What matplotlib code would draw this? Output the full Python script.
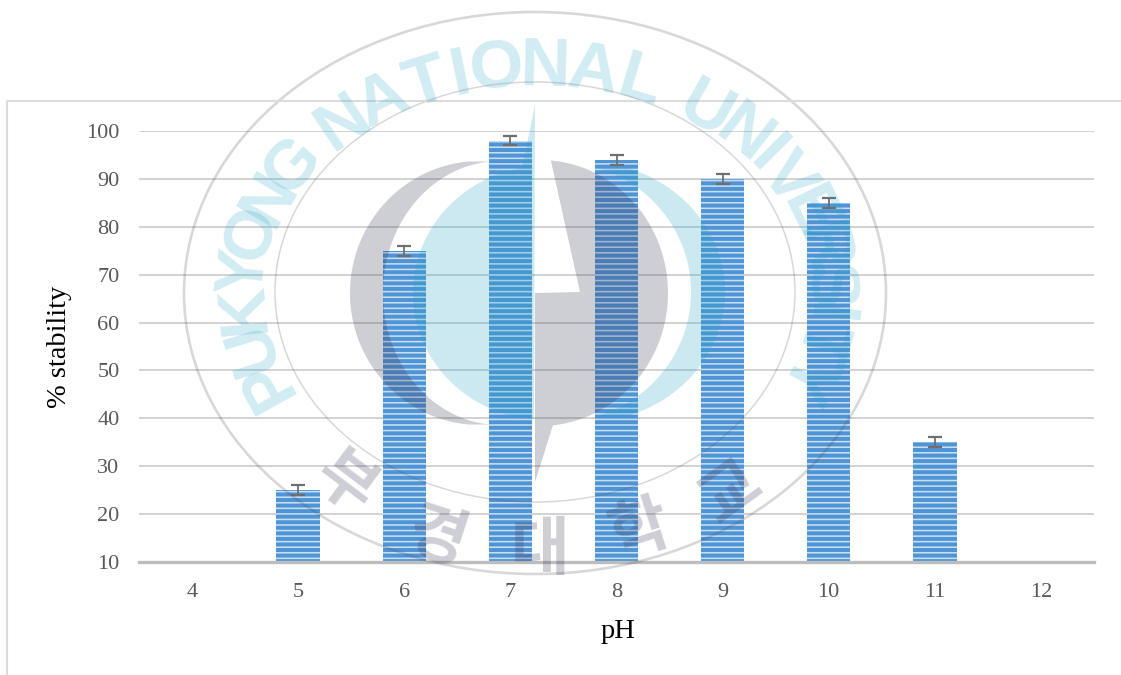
import numpy as np
import matplotlib
matplotlib.use("Agg")
import matplotlib.pyplot as plt
from matplotlib.patches import Ellipse, Polygon

ph = [4, 5, 6, 7, 8, 9, 10, 11, 12]
stability = [np.nan, 25, 75, 98, 94, 90, 85, 35, np.nan]
errors = [np.nan, 1, 1, 1, 1, 1, 1, 1, np.nan]
yticks = [10, 20, 30, 40, 50, 60, 70, 80, 90, 100]

seal_text = "PUKYONG NATIONAL UNIVERSITY"
seal_korean = ["부", "경", "대", "학", "교"]

W, H = 1121, 675
plt.rcParams['hatch.linewidth'] = 1.15
plt.rcParams['font.family'] = ['Liberation Serif', 'DejaVu Serif']

fig = plt.figure(figsize=(W/100, H/100), dpi=100)
ax = fig.add_axes([139/W, (H-562)/H, (1094-139)/W, (562-131)/H])

# chart
ax.yaxis.grid(True, color='#d2d2d2', lw=1.4)
ax.set_axisbelow(True)
ax.bar(ph, stability, width=0.41, color='#4f94d4', edgecolor='#c8def3', hatch='---', lw=0)
ax.errorbar(ph, stability, yerr=errors, fmt='none', ecolor='#6e6e6e', elinewidth=1.3, capsize=5, capthick=1.6)
ax.set_xlim(3.5, 12.5)
ax.set_ylim(10, 100)
ax.set_xticks(ph)
ax.set_yticks(yticks)
ax.tick_params(length=0, labelsize=16, labelcolor='#595959')
ax.tick_params(axis='x', pad=15)
ax.tick_params(axis='y', pad=14)
for s in ['top', 'left', 'right']:
    ax.spines[s].set_visible(False)
ax.spines['bottom'].set_color('#bdbdbd')
ax.spines['bottom'].set_linewidth(2.4)
ax.set_xlabel('pH', fontsize=20.5, va='top')
ax.set_ylabel('% stability', fontsize=20.5, va='bottom')
ax.xaxis.set_label_coords(0.5016, -0.133)
ax.yaxis.set_label_coords(-0.07, 0.5)

# overlay in pixel coordinates for frame and watermark
ov = fig.add_axes([0, 0, 1, 1], zorder=5)
ov.set_xlim(0, W)
ov.set_ylim(H, 0)
ov.axis('off')
ov.plot([7, 7, W], [H, 101, 101], color='#dcdcdc', lw=1.5)


def arc(cx, cy, rx, ry, t0, t1):
    t = np.radians(np.linspace(t0, t1, 80))
    return np.column_stack([cx + rx*np.cos(t), cy - ry*np.sin(t)])


GRAY = '#3c3c5a'
BLUE = '#24a4c4'
cx, cy = 535, 293

# rings
ov.add_patch(Ellipse((cx, cy), 702, 562, fill=False, ec='#50505a', alpha=0.22, lw=1.9))
ov.add_patch(Ellipse((cx, cy-1), 520, 420, fill=False, ec='#50505a', alpha=0.22, lw=1.1))

# logo: blue parts
left_blue = np.vstack([[[535, 105], [534, 420]], arc(545, 293, 132, 127, 265, 95), [[522, 168]]])
ov.add_patch(Polygon(left_blue, fc=BLUE, ec='none', alpha=0.23))
right_blue = np.vstack([arc(585, 292, 140, 130, 72, -72), arc(558, 292, 133, 130, -72, 72)])
ov.add_patch(Polygon(right_blue, fc=BLUE, ec='none', alpha=0.23))

# logo: gray parts
crescent = np.vstack([arc(480, 293, 130, 132, 95, 265), arc(500, 293, 117, 132, 265, 95)])
ov.add_patch(Polygon(crescent, fc=GRAY, ec='none', alpha=0.25))
bolt = np.vstack([[[580, 292], [551, 161]], arc(540, 293, 128, 133, 85, -85), [[553, 425], [535, 482], [535, 293]]])
ov.add_patch(Polygon(bolt, fc=GRAY, ec='none', alpha=0.25))

# seal lettering, spaced along an ellipse
weights = np.array([0.5 if c == 'I' else 0.55 if c == ' ' else 1.0 for c in seal_text])
pos = (np.cumsum(weights) - weights/2) / weights.sum()
angles = 208 + (-27 - 208)*pos
for c, a in zip(seal_text, angles):
    t = np.radians(a)
    rot = np.degrees(np.arctan2(-225*np.cos(t), 292*np.sin(t)))
    ov.text(cx + 292*np.cos(t), cy - 225*np.sin(t), c, rotation=rot, rotation_mode='anchor',
            ha='center', va='center', fontsize=50, color=BLUE, alpha=0.21,
            family='Liberation Sans', fontweight='bold')

kor_x = [345, 437, 540, 640, 731]
kor_y = [484, 538, 550, 530, 492]
kor_rot = [-37, -18, 0, 18, 36]
for c, x, y, r in zip(seal_korean, kor_x, kor_y, kor_rot):
    ov.text(x, y, c, rotation=r, rotation_mode='anchor', ha='center', va='center', fontsize=46,
            color=GRAY, alpha=0.25, family='Noto Sans CJK KR', fontweight='bold')

plt.savefig("out.png", dpi=100)
